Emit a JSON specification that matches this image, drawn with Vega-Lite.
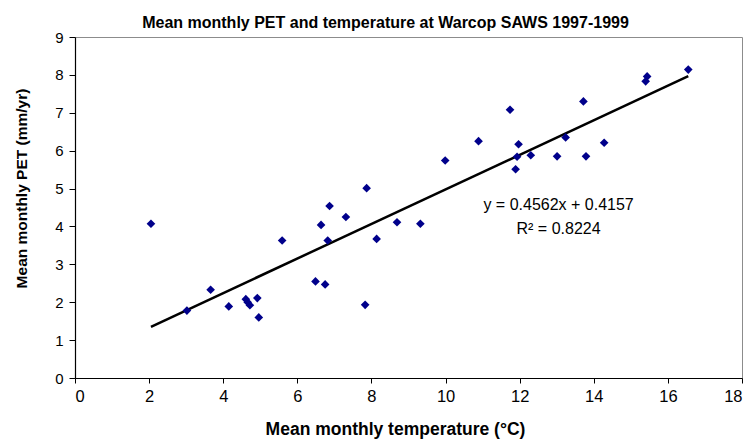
{
  "$schema": "https://vega.github.io/schema/vega-lite/v6.json",
  "width": 667,
  "height": 341,
  "autosize": {"type": "none"},
  "padding": {"left": 75, "top": 37, "right": 11, "bottom": 61},
  "background": "white",
  "title": {
    "text": "Mean monthly PET and temperature at Warcop SAWS 1997-1999",
    "font": "Liberation Sans",
    "fontSize": 16,
    "fontWeight": "bold",
    "color": "black",
    "anchor": "middle",
    "frame": "group",
    "dx": -23,
    "dy": 5,
    "offset": 4
  },
  "datasets": {
    "obs": [
      {"temp": 2.05, "pet": 4.07},
      {"temp": 3.02, "pet": 1.78},
      {"temp": 3.66, "pet": 2.33},
      {"temp": 4.15, "pet": 1.89},
      {"temp": 4.61, "pet": 2.08},
      {"temp": 4.66, "pet": 2.0},
      {"temp": 4.72, "pet": 1.92},
      {"temp": 4.92, "pet": 2.11},
      {"temp": 4.96, "pet": 1.6},
      {"temp": 5.59, "pet": 3.63},
      {"temp": 6.49, "pet": 2.55},
      {"temp": 6.64, "pet": 4.04},
      {"temp": 6.75, "pet": 2.47},
      {"temp": 6.82, "pet": 3.63},
      {"temp": 6.87, "pet": 4.54},
      {"temp": 7.31, "pet": 4.25},
      {"temp": 7.83, "pet": 1.93},
      {"temp": 7.87, "pet": 5.01},
      {"temp": 8.14, "pet": 3.67},
      {"temp": 8.69, "pet": 4.11},
      {"temp": 9.32, "pet": 4.07},
      {"temp": 9.99, "pet": 5.74},
      {"temp": 10.89, "pet": 6.25},
      {"temp": 11.74, "pet": 7.08},
      {"temp": 11.97, "pet": 6.17},
      {"temp": 11.93, "pet": 5.84},
      {"temp": 11.89, "pet": 5.51},
      {"temp": 12.3, "pet": 5.88},
      {"temp": 13.01, "pet": 5.85},
      {"temp": 13.24, "pet": 6.35},
      {"temp": 13.72, "pet": 7.3},
      {"temp": 13.79, "pet": 5.85},
      {"temp": 14.28, "pet": 6.21},
      {"temp": 15.4, "pet": 7.83},
      {"temp": 15.44, "pet": 7.96},
      {"temp": 16.55, "pet": 8.14}
    ],
    "trend": [
      {"temp": 2.05, "pet": 1.351},
      {"temp": 16.55, "pet": 7.966}
    ],
    "labels": [
      {"temp": 13.05, "pet": 4.56, "text": "y = 0.4562x + 0.4157"},
      {"temp": 13.05, "pet": 3.92, "text": "R² = 0.8224"}
    ]
  },
  "encoding": {
    "x": {
      "field": "temp",
      "type": "quantitative",
      "title": "Mean monthly temperature (°C)",
      "scale": {"domain": [0, 18], "nice": false, "zero": false},
      "axis": {
        "values": [0, 2, 4, 6, 8, 10, 12, 14, 16, 18],
        "grid": false,
        "tickSize": 5,
        "labelPadding": 5,
        "labelFontSize": 16.5,
        "titleFontSize": 17.5,
        "titleX": 320,
        "titleY": 42,
        "titleAnchor": "middle"
      }
    },
    "y": {
      "field": "pet",
      "type": "quantitative",
      "title": "Mean monthly PET (mm/yr)",
      "scale": {"domain": [0, 9], "nice": false},
      "axis": {
        "values": [0, 1, 2, 3, 4, 5, 6, 7, 8, 9],
        "grid": false,
        "tickSize": 6,
        "labelPadding": 6,
        "labelFontSize": 15,
        "titleFontSize": 15.5,
        "titleX": -46,
        "titleY": 151,
        "titleAnchor": "middle"
      }
    }
  },
  "layer": [
    {
      "data": {"name": "trend"},
      "mark": {"type": "line", "color": "black", "strokeWidth": 2.5}
    },
    {
      "data": {"name": "obs"},
      "mark": {"type": "point", "shape": "diamond", "filled": true, "color": "#00008b", "opacity": 1, "size": 75}
    },
    {
      "data": {"name": "labels"},
      "mark": {"type": "text", "font": "Liberation Sans", "fontSize": 16, "color": "black", "align": "center", "baseline": "middle"},
      "encoding": {"text": {"field": "text", "type": "nominal"}}
    }
  ],
  "config": {
    "view": {"stroke": "#8c8c8c", "strokeWidth": 1},
    "axis": {
      "domainColor": "black",
      "domainWidth": 1.2,
      "tickColor": "black",
      "labelFont": "Liberation Sans",
      "labelColor": "black",
      "titleFont": "Liberation Sans",
      "titleFontWeight": "bold",
      "titleColor": "black"
    }
  }
}
